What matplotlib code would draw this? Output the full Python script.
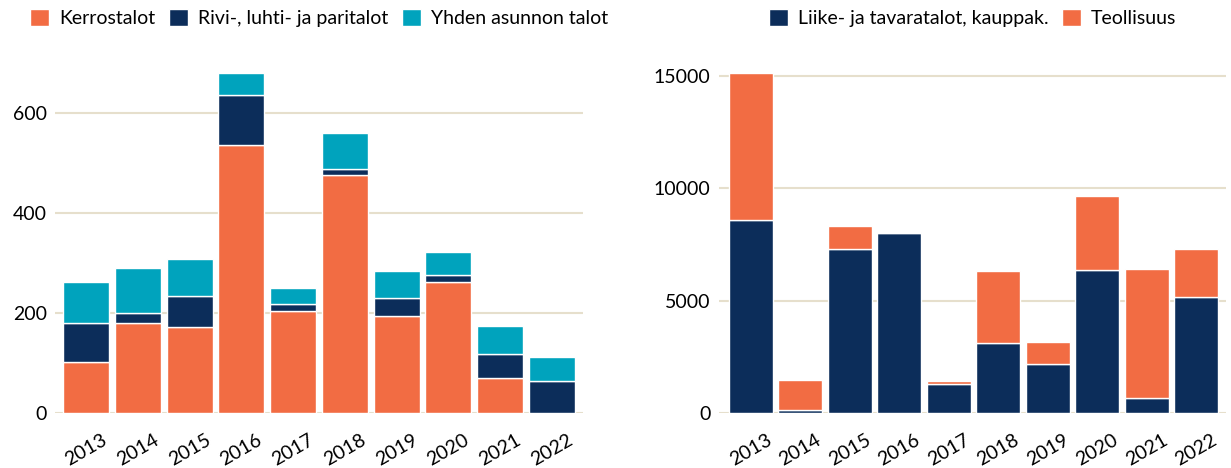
import numpy as np
import matplotlib
matplotlib.use("Agg")
import matplotlib.pyplot as plt

years = ["2013", "2014", "2015", "2016", "2017", "2018", "2019", "2020", "2021", "2022"]

# vasen: asuinrakennukset
kerrostalot = [103, 180, 172, 535, 205, 475, 194, 263, 71, 0]
rivitalot = [77, 20, 62, 101, 13, 12, 37, 13, 47, 65]
omakotitalot = [82, 90, 74, 44, 32, 72, 53, 46, 56, 48]

# oikea: liike- ja teollisuusrakennukset
liiketalot = [8580, 120, 7280, 8000, 1290, 3120, 2200, 6360, 680, 5160]
teollisuus = [6570, 1350, 1040, 45, 150, 3180, 950, 3290, 5710, 2160]

ORANGE = "#f26c43"
NAVY = "#0c2d5a"
TEAL = "#00a3bd"
GRID = "#e6dfcc"

plt.rcParams['font.family'] = ['Lato', 'DejaVu Sans']
plt.rcParams['font.size'] = 14

fig = plt.figure(figsize=(12.31, 4.68), dpi=100)
ax1 = fig.add_axes([0.0447, 0.1175, 0.4289, 0.7479])
ax2 = fig.add_axes([0.5841, 0.1175, 0.4119, 0.7479])

x = np.arange(len(years))
w = 0.89
kw = dict(width=w, edgecolor="white", linewidth=1, zorder=3)

k = np.array(kerrostalot)
r = np.array(rivitalot)
y = np.array(omakotitalot)
ax1.bar(x, k, color=ORANGE, label="Kerrostalot", **kw)
ax1.bar(x, r, bottom=k, color=NAVY, label="Rivi-, luhti- ja paritalot", **kw)
ax1.bar(x, y, bottom=k + r, color=TEAL, label="Yhden asunnon talot", **kw)
ax1.set_ylim(0, 700)
ax1.set_yticks([0, 200, 400, 600])
ax1.set_xlim(-0.6, 9.6)

l = np.array(liiketalot)
t = np.array(teollisuus)
ax2.bar(x, l, color=NAVY, label="Liike- ja tavaratalot, kauppak.", **kw)
ax2.bar(x, t, bottom=l, color=ORANGE, label="Teollisuus", **kw)
ax2.set_ylim(0, 15580)
ax2.set_yticks([0, 5000, 10000, 15000])
ax2.set_xlim(-0.64, 9.6)

for ax in (ax1, ax2):
    ax.set_xticks(x)
    ax.set_xticklabels(years, rotation=30, ha="center")
    ax.tick_params(length=0, labelsize=14, pad=6)
    ax.tick_params(axis="x", pad=13)
    for lab in ax.get_xticklabels():
        lab.set_x(lab.get_position()[0])
    for s in ax.spines.values():
        s.set_visible(False)
    ax.yaxis.grid(True, color=GRID, linewidth=1.5, zorder=0)
    ax.set_axisbelow(True)
    ax.legend(loc="center", bbox_to_anchor=(0.5, 1.128), ncol=3, frameon=False,
              handlelength=1.0, handleheight=1.0, handletextpad=0.5,
              columnspacing=0.7, fontsize=14, borderaxespad=0)

fig.savefig("out.png", dpi=100)
